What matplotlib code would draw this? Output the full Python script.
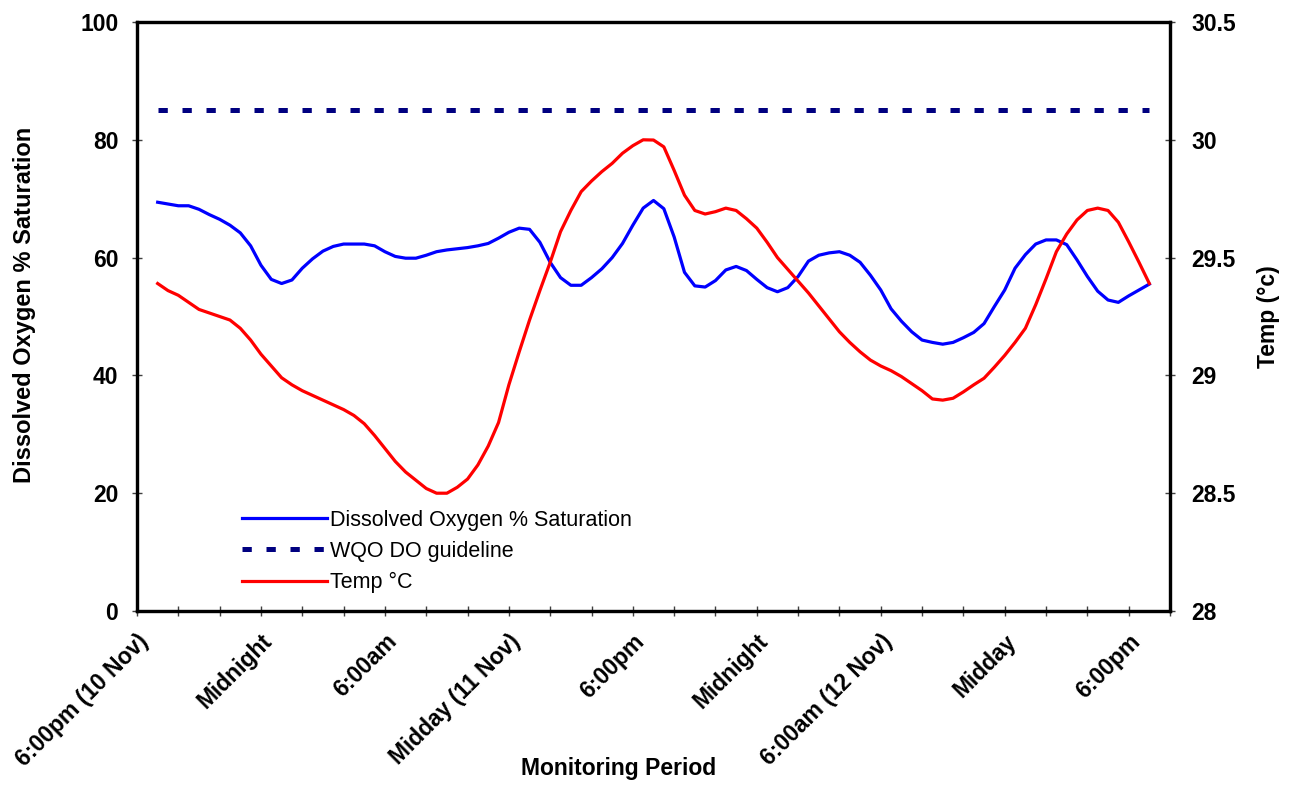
import numpy as np
import matplotlib
matplotlib.use("Agg")
import matplotlib.pyplot as plt
from matplotlib.ticker import FixedLocator, NullFormatter

plt.rcParams['font.family'] = ['Liberation Sans', 'DejaVu Sans']

# readings every half hour, hours counted from 6:00pm on 10 Nov
hours = np.arange(1.0, 49.5, 0.5)

do_sat = [
    69.4, 69.1, 68.8, 68.8, 68.2, 67.3, 66.5, 65.5, 64.2, 62.0,
    58.7, 56.3, 55.6, 56.2, 58.2, 59.8, 61.1, 61.9, 62.3, 62.3,
    62.3, 62.0, 61.0, 60.2, 59.9, 59.9, 60.4, 61.0, 61.3, 61.5,
    61.7, 62.0, 62.4, 63.3, 64.3, 65.0, 64.8, 62.6, 59.2, 56.6,
    55.3, 55.3, 56.6, 58.1, 60.0, 62.4, 65.5, 68.4, 69.7, 68.3,
    63.5, 57.5, 55.2, 55.0, 56.1, 57.9, 58.5, 57.8, 56.3, 54.9,
    54.2, 54.9, 56.8, 59.4, 60.4, 60.8, 61.0, 60.4, 59.2, 57.0,
    54.5, 51.3, 49.2, 47.4, 46.0, 45.6, 45.3, 45.6, 46.4, 47.3,
    48.8, 51.7, 54.5, 58.2, 60.5, 62.3, 63.0, 63.0, 62.2, 59.6,
    56.8, 54.3, 52.8, 52.4, 53.5, 54.5, 55.5,
]

temp_c = [
    29.39, 29.36, 29.34, 29.31, 29.28, 29.265, 29.25, 29.235, 29.20, 29.15,
    29.09, 29.04, 28.99, 28.96, 28.935, 28.915, 28.895, 28.875, 28.855, 28.83,
    28.795, 28.745, 28.69, 28.635, 28.59, 28.555, 28.52, 28.50, 28.50, 28.525,
    28.56, 28.62, 28.70, 28.80, 28.96, 29.10, 29.235, 29.36, 29.48, 29.61,
    29.70, 29.78, 29.825, 29.865, 29.90, 29.943, 29.975, 30.00, 29.999, 29.97,
    29.87, 29.765, 29.70, 29.685, 29.695, 29.71, 29.70, 29.665, 29.625, 29.565,
    29.50, 29.45, 29.40, 29.35, 29.295, 29.24, 29.185, 29.14, 29.10, 29.065,
    29.04, 29.02, 28.995, 28.965, 28.935, 28.90, 28.895, 28.903, 28.93, 28.96,
    28.988, 29.035, 29.085, 29.14, 29.20, 29.30, 29.41, 29.525, 29.60, 29.66,
    29.70, 29.71, 29.70, 29.65, 29.567, 29.48, 29.39,
]

do_guideline = 85

tick_hours = list(range(0, 51, 2))
label_hours = [0, 6, 12, 18, 24, 30, 36, 42, 48]
label_text = ['6:00pm (10 Nov)', 'Midnight', '6:00am', 'Midday (11 Nov)',
              '6:00pm', 'Midnight', '6:00am (12 Nov)', 'Midday', '6:00pm']

FS = 16.5

fig = plt.figure(figsize=(12.89, 7.85), dpi=100)
ax = fig.add_axes([137 / 1289, 1 - 611 / 785, (1170 - 137) / 1289, (611 - 22) / 785])
ax2 = ax.twinx()

l_do, = ax.plot(hours, do_sat, color='#0000FF', lw=2.3, solid_joinstyle='round')
l_gl, = ax.plot([hours[0], hours[-1]], [do_guideline, do_guideline], color='#000080',
                lw=3.6, linestyle=(0, (1.86, 2.94)), dash_capstyle='butt')
l_t, = ax2.plot(hours, temp_c, color='#FF0000', lw=2.3, solid_joinstyle='round')

ax.set_xlim(0, 50)
ax.set_ylim(0, 100)
ax2.set_ylim(28, 30.5)
ax.set_yticks([0, 20, 40, 60, 80, 100])
ax2.set_yticks([28, 28.5, 29, 29.5, 30, 30.5])
ax2.set_yticklabels(['28', '28.5', '29', '29.5', '30', '30.5'])

ax.set_xticks(label_hours)
ax.set_xticklabels(label_text, rotation=45, ha='right', va='top',
                   rotation_mode='anchor', fontsize=FS, fontweight='bold')
ax.xaxis.set_minor_locator(FixedLocator([h for h in tick_hours if h not in label_hours]))
ax.xaxis.set_minor_formatter(NullFormatter())

for a in (ax, ax2):
    for s in a.spines.values():
        s.set_linewidth(2.3)
    a.tick_params(axis='both', which='both', direction='inout', length=7,
                  width=1, color='#404040', labelsize=FS)
for lab in ax.get_yticklabels() + ax2.get_yticklabels():
    lab.set_fontweight('bold')
ax.tick_params(axis='y', pad=10)
ax2.tick_params(axis='y', pad=12)
ax.tick_params(axis='x', pad=10)

ax.set_ylabel('Dissolved Oxygen % Saturation', fontsize=17, fontweight='bold',
              va='center')
ax.yaxis.set_label_coords((25 - 137) / 1033, (611 - 305) / 589)
ax2.set_ylabel('Temp (°c)', fontsize=FS, fontweight='bold', va='center')
ax2.yaxis.set_label_coords((1268 - 137) / 1033, 0.5)
ax.set_xlabel('Monitoring Period', fontsize=FS, fontweight='bold', va='center')
ax.xaxis.set_label_coords((619 - 137) / 1033, (611 - 768) / 589)

ax.legend([l_do, l_gl, l_t],
          ['Dissolved Oxygen % Saturation', 'WQO DO guideline', 'Temp °C'],
          loc='upper left', bbox_to_anchor=(0.1016, 0.172), frameon=False,
          borderpad=0, borderaxespad=0,
          fontsize=15.5, handlelength=3.95, handletextpad=0.14, labelspacing=0.47)

fig.savefig('out.png', dpi=100, facecolor='white')
